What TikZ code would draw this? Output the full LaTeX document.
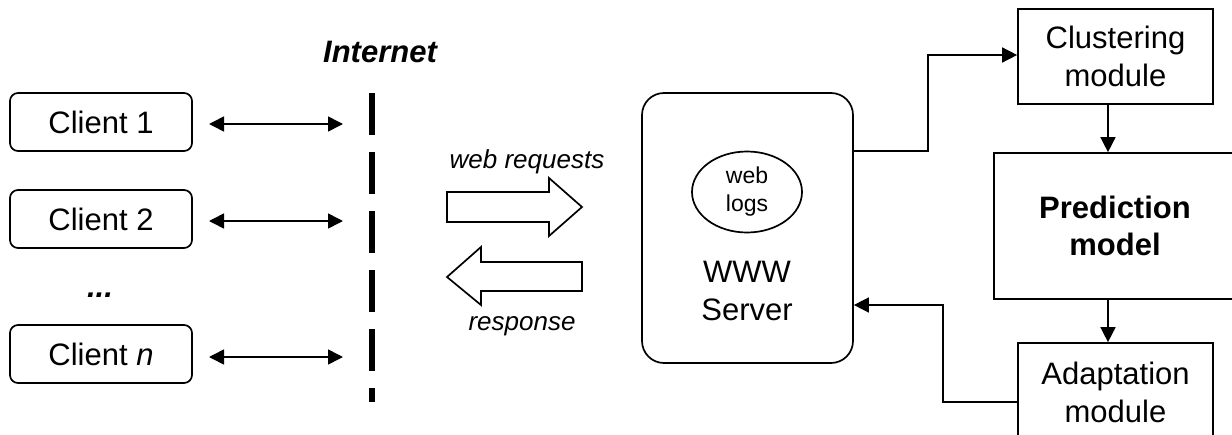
\documentclass[tikz,border=0pt]{standalone}
\usepackage{fontspec}
\setmainfont{Liberation Sans}
\usetikzlibrary{arrows.meta,shapes.geometric}
\begin{document}
\begin{tikzpicture}[x=1pt,y=-1pt,
  big/.style={font=\fontsize{31}{37.5}\selectfont},
  client/.style={draw, line width=1.7pt, rounded corners=8pt, minimum width=182pt, minimum height=58pt, inner sep=0pt, big},
  sqbox/.style={draw, line width=1.7pt, inner sep=0pt, align=center, big},
  arr/.style={line width=1.6pt, -{Triangle[length=15pt,width=15pt]}},
  darr/.style={line width=1.6pt, {Triangle[length=15pt,width=15pt]}-{Triangle[length=15pt,width=15pt]}},
  blockarrow/.style={draw, line width=1.7pt, fill=white, line join=miter},
  lbl/.style={font=\fontsize{26}{30}\selectfont\itshape, anchor=base},
]
\useasboundingbox (0,0) rectangle (1232,434);
\clip (0,0) rectangle (1232,434);

% clients
\node[client] (c1) at (101,122) {Client 1};
\node[client] (c2) at (101,219) {Client 2};
\node[client] (cn) at (101,354) {Client \textit{n}};
\node[font=\fontsize{31}{37.5}\selectfont\bfseries\itshape, anchor=base] (dots) at (100,297) {...};

% internet
\node[font=\fontsize{31}{37.5}\selectfont\bfseries\itshape] (inet) at (380,52) {Internet};
\coordinate (ltop) at (372,93);
\coordinate (lbot) at (372,402);
\draw[line width=5.5pt, dash pattern=on 42pt off 17pt] (ltop) -- (lbot);

% double arrows
\coordinate (a1) at (209,124); \coordinate (b1) at (343,124);
\coordinate (a2) at (209,221); \coordinate (b2) at (343,221);
\coordinate (an) at (209,357); \coordinate (bn) at (343,357);
\draw[darr] (a1) -- (b1);
\draw[darr] (a2) -- (b2);
\draw[darr] (an) -- (bn);

% block arrows
\draw[blockarrow] (447,192) -- (549,192) -- (549,178) -- (582,207) -- (549,236) -- (549,222) -- (447,222) -- cycle;
\draw[blockarrow] (582,262) -- (481,262) -- (481,247) -- (447,277) -- (481,305) -- (481,291) -- (582,291) -- cycle;
\node[lbl] (wreq) at (527,168) {web requests};
\node[lbl] (resp) at (522,330) {response};

% server
\node[draw, line width=1.7pt, rounded corners=22pt, minimum width=211pt, minimum height=270pt, inner sep=0pt] (srv) at (747.5,228) {};
\node[ellipse, draw, line width=1.7pt, minimum width=110pt, minimum height=81pt, inner sep=0pt, align=center, font=\fontsize{23}{28}\selectfont] (logs) at (747,192) {web\\logs};
\node[big, align=center, inner sep=0pt] (www) at (747,291) {WWW\\Server};

% right modules
\node[sqbox, minimum width=195pt, minimum height=95pt] (clu) at (1115.5,56.5) {Clustering\\module};
\node[sqbox, minimum width=242pt, minimum height=146pt, font=\fontsize{31}{37.5}\selectfont\bfseries] (pred) at (1115,226) {Prediction\\model};
\node[sqbox, minimum width=195pt, minimum height=99pt] (ada) at (1115.5,392.5) {Adaptation\\module};

% connectors
\coordinate (k1) at (928,151);
\coordinate (k2) at (928,55);
\coordinate (m1) at (943,402);
\coordinate (m2) at (943,305);
\coordinate (vx) at (1108,0);
\draw[arr] (srv.east |- k1) -- (k1) -- (k2) -- (clu.west |- k2);
\draw[arr] (clu.south -| vx) -- (pred.north -| vx);
\draw[arr] (pred.south -| vx) -- (ada.north -| vx);
\draw[arr] (ada.west |- m1) -- (m1) -- (m2) -- (srv.east |- m2);
\end{tikzpicture}
\end{document}
